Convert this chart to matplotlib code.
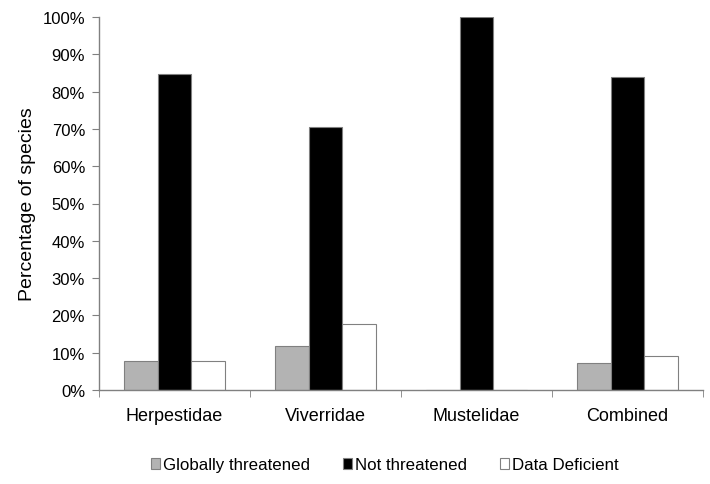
import numpy as np
import matplotlib.pyplot as plt
from matplotlib.ticker import PercentFormatter, FixedLocator

plt.rcParams['font.family'] = ['Liberation Sans', 'DejaVu Sans']

families = ['Herpestidae', 'Viverridae', 'Mustelidae', 'Combined']
threatened = [7.7, 11.8, 0.0, 7.3]
not_threatened = [84.6, 70.6, 100.0, 83.8]
data_deficient = [7.7, 17.6, 0.0, 9.2]

fig = plt.figure(figsize=(7.1, 4.85), dpi=100)
ax = fig.add_axes([99 / 710, 1 - 391 / 485, 604 / 710, 373 / 485])

x = np.arange(len(families))
w = 1 / 4.5
edge = '#808080'
ax.bar(x - w, threatened, w, color='#b3b3b3', edgecolor=edge, linewidth=0.8,
       label='Globally threatened')
ax.bar(x, not_threatened, w, color='black', edgecolor=edge, linewidth=0.8,
       label='Not threatened')
ax.bar(x + w, data_deficient, w, color='white', edgecolor=edge, linewidth=0.8,
       label='Data Deficient')

ax.set_xlim(-0.5, len(families) - 0.5)
ax.set_ylim(0, 100)
ax.yaxis.set_major_locator(FixedLocator(np.arange(0, 101, 10)))
ax.yaxis.set_major_formatter(PercentFormatter(decimals=0))
ax.set_xticks(x)
ax.set_xticklabels(families)
ax.xaxis.set_minor_locator(FixedLocator(np.arange(-0.5, len(families), 1)))
ax.tick_params(axis='x', which='major', length=0, pad=12, labelsize=13)
ax.tick_params(axis='x', which='minor', length=5, color=edge, direction='out')
ax.tick_params(axis='y', length=5, color=edge, direction='out', labelsize=12, pad=5)

for s in ['top', 'right']:
    ax.spines[s].set_visible(False)
for s in ['left', 'bottom']:
    ax.spines[s].set_color(edge)
    ax.spines[s].set_linewidth(1)

ax.set_ylabel('Percentage of species', fontsize=14, labelpad=5)

leg = fig.legend(loc='center', bbox_to_anchor=(0.542, 1 - 466 / 485), ncol=3,
                 frameon=False, fontsize=12.2, handlelength=0.55, handleheight=0.55,
                 handletextpad=0.2, columnspacing=1.9)

fig.savefig('out.png', dpi=100)
